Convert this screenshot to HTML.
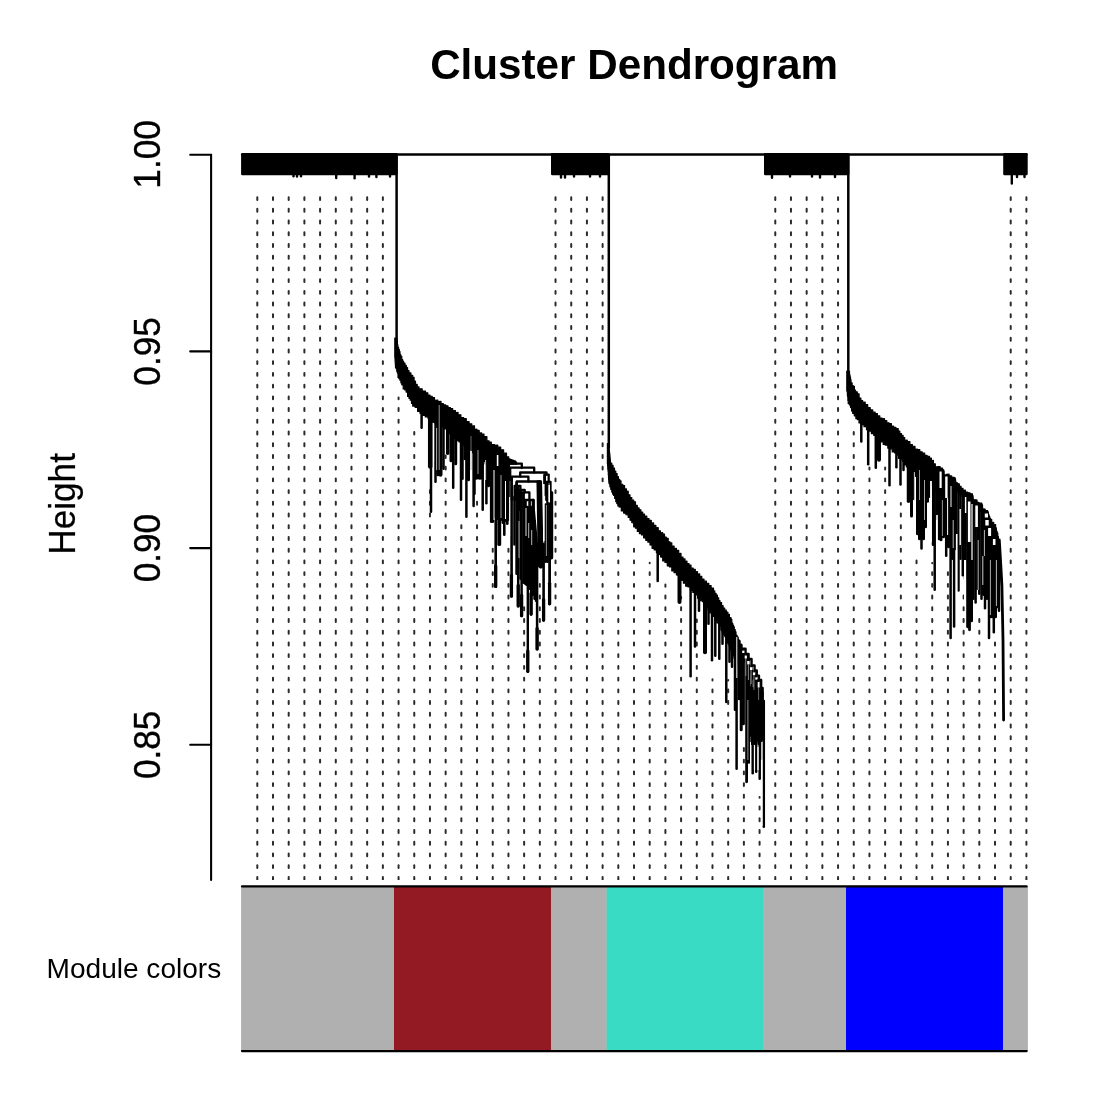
<!DOCTYPE html>
<html lang="en"><head><meta charset="utf-8"><title>Cluster Dendrogram</title>
<style>html,body{margin:0;padding:0;background:#fff;}body{width:1100px;height:1100px;overflow:hidden;font-family:'Liberation Sans',sans-serif;}svg{display:block;}</style>
</head><body>
<svg width="1100" height="1100" viewBox="0 0 1100 1100">
<rect width="1100" height="1100" fill="#fff"/>
<defs><clipPath id="cp"><rect x="0" y="0" width="1100" height="880"/></clipPath></defs>
<g clip-path="url(#cp)" stroke="#2b2b2b" stroke-width="2" stroke-linecap="round" fill="none" stroke-dasharray="2.90 8.82">
<path d="M257.30 879.8V192.00"/>
<path d="M273.00 879.8V192.00"/>
<path d="M288.69 879.8V192.00"/>
<path d="M304.39 879.8V192.00"/>
<path d="M320.08 879.8V192.00"/>
<path d="M335.78 879.8V192.00"/>
<path d="M351.48 879.8V192.00"/>
<path d="M367.17 879.8V192.00"/>
<path d="M382.87 879.8V192.00"/>
<path d="M398.56 879.8V397.40"/>
<path d="M414.26 879.8V432.00"/>
<path d="M429.96 879.8V485.00"/>
<path d="M445.65 879.8V455.50"/>
<path d="M461.35 879.8V518.00"/>
<path d="M477.04 879.8V495.00"/>
<path d="M492.74 879.8V540.00"/>
<path d="M508.44 879.8V547.00"/>
<path d="M524.13 879.8V600.00"/>
<path d="M539.83 879.8V583.00"/>
<path d="M555.52 879.8V192.00"/>
<path d="M571.22 879.8V192.00"/>
<path d="M586.92 879.8V192.00"/>
<path d="M602.61 879.8V192.00"/>
<path d="M618.31 879.8V523.00"/>
<path d="M634.00 879.8V546.00"/>
<path d="M649.70 879.8V562.80"/>
<path d="M665.40 879.8V584.60"/>
<path d="M681.09 879.8V597.00"/>
<path d="M696.79 879.8V619.50"/>
<path d="M712.48 879.8V679.20"/>
<path d="M728.18 879.8V680.00"/>
<path d="M743.88 879.8V748.00"/>
<path d="M759.57 879.8V797.00"/>
<path d="M775.27 879.8V192.00"/>
<path d="M790.96 879.8V192.00"/>
<path d="M806.66 879.8V192.00"/>
<path d="M822.36 879.8V192.00"/>
<path d="M838.05 879.8V192.00"/>
<path d="M853.75 879.8V432.00"/>
<path d="M869.44 879.8V467.40"/>
<path d="M885.14 879.8V467.40"/>
<path d="M900.84 879.8V503.00"/>
<path d="M916.53 879.8V552.00"/>
<path d="M932.23 879.8V563.00"/>
<path d="M947.92 879.8V565.00"/>
<path d="M963.62 879.8V593.00"/>
<path d="M979.32 879.8V612.00"/>
<path d="M995.01 879.8V635.00"/>
<path d="M1010.71 879.8V192.00"/>
<path d="M1026.40 879.8V192.00"/>
</g>
<g stroke="#000" stroke-width="2.5" stroke-linecap="round" stroke-linejoin="round" fill="none">
<path d="M242.3 154.6H1026.4"/>
</g>
<rect x="241.1" y="153.1" width="156.5" height="22.2" rx="1.2" fill="#000"/>
<rect x="551.0" y="153.1" width="58.6" height="22.2" rx="1.2" fill="#000"/>
<rect x="764.0" y="153.1" width="85.4" height="22.2" rx="1.2" fill="#000"/>
<rect x="1003.2" y="153.1" width="24.5" height="22.2" rx="1.2" fill="#000"/>
<g stroke="#000" stroke-width="2.4" stroke-linecap="round" fill="none">
<path d="M293.5 172V176.2"/>
<path d="M297 172V176.5"/>
<path d="M301 172V176.3"/>
<path d="M336.2 172V178"/>
<path d="M354.6 172V178.3"/>
<path d="M369 172V176.5"/>
<path d="M376.4 172V177"/>
<path d="M390 172V176.6"/>
<path d="M561 172V177.5"/>
<path d="M565 172V177.5"/>
<path d="M574 172V176.5"/>
<path d="M590 172V176.6"/>
<path d="M600 172V176.5"/>
<path d="M772 172V177.8"/>
<path d="M790 172V176.5"/>
<path d="M812 172V176.5"/>
<path d="M820 172V177.5"/>
<path d="M835 172V177"/>
<path d="M1011.8 172V183.5"/>
<path d="M1017 172V177"/>
<path d="M1024.5 172V177"/>
</g>
<path d="M396.6 154.6V343.0" stroke="#000" stroke-width="2.5" fill="none"/>
<path d="M396.4 338.0L396.8 337.9L396.8 339.8L397.1 339.9L397.1 342.1L397.4 342.1L397.4 344.8L397.8 344.6L397.8 347.3L398.5 347.1L398.5 349.6L399.3 349.4L399.3 351.5L400.0 351.5L400.0 355.0L400.9 354.8L400.9 356.4L401.8 356.4L401.8 359.7L402.7 359.7L402.7 361.2L403.6 361.4L403.6 363.0L405.0 363.1L405.0 365.6L406.3 365.4L406.3 367.6L407.6 367.5L407.6 370.9L409.0 370.7L409.0 372.8L410.9 372.9L410.9 375.3L412.7 375.3L412.7 377.6L414.1 377.4L414.1 380.9L415.5 381.0L415.5 384.4L417.2 384.3L417.2 386.9L419.0 386.9L419.0 388.7L422.2 388.8L422.2 391.1L425.5 391.0L425.5 392.8L427.8 392.8L427.8 395.1L430.0 395.1L430.0 396.1L432.2 396.3L432.2 397.6L434.5 397.6L434.5 400.4L437.8 400.2L437.8 401.6L441.0 401.4L441.0 403.5L443.3 403.6L443.3 404.7L445.7 404.9L445.7 405.7L448.0 405.8L448.0 407.5L450.4 407.5L450.4 408.6L452.7 408.7L452.7 410.6L455.4 410.6L455.4 412.5L458.1 412.3L458.1 414.8L460.9 414.8L460.9 417.4L463.6 417.6L463.6 418.7L466.3 418.7L466.3 421.7L469.1 421.5L469.1 423.9L471.8 423.8L471.8 426.0L474.5 425.8L474.5 429.4L476.9 429.2L476.9 430.4L479.2 430.4L479.2 433.0L481.6 432.8L481.6 434.2L484.0 434.2L484.0 436.5L486.9 436.7L486.9 440.9L489.1 440.8L489.1 442.1L491.3 442.0L491.3 444.5L494.6 444.7L494.6 445.3L497.8 445.2L497.8 447.2L500.7 447.1L500.7 449.8L503.6 449.8L503.6 453.2L506.5 453.0L506.5 456.9L508.7 456.8L508.7 459.7L508.7 468.2L508.7 469.1L508.7 469.4L508.7 471.6L508.7 471.6L508.7 475.1L508.7 475.1L508.7 478.4L508.7 478.4L508.7 480.8L508.7 480.8L508.7 478.0L505.8 477.9L505.8 476.7L502.9 476.8L502.9 473.6L500.0 473.8L500.0 472.0L497.5 472.2L497.5 469.4L495.0 469.6L495.0 467.3L492.5 467.4L492.5 466.9L490.0 466.7L490.0 465.6L487.6 465.7L487.6 463.9L485.2 463.9L485.2 461.7L482.8 461.4L482.8 461.1L480.4 461.3L480.4 460.2L478.0 460.3L478.0 458.7L476.2 458.5L476.2 456.0L474.4 456.2L474.4 452.9L472.6 452.7L472.6 450.3L470.8 450.5L470.8 450.0L469.0 449.9L469.0 446.9L466.5 447.0L466.5 446.3L464.0 446.0L464.0 444.1L461.4 444.2L461.4 441.6L458.9 441.8L458.9 440.7L456.4 440.6L456.4 438.5L454.0 438.2L454.0 436.1L451.5 436.4L451.5 433.7L449.1 433.6L449.1 432.5L446.7 432.3L446.7 428.9L444.2 428.8L444.2 426.6L441.8 426.8L441.8 425.5L439.5 425.6L439.5 425.8L437.2 425.5L437.2 423.3L434.9 423.0L434.9 422.4L432.6 422.2L432.6 419.8L430.3 419.9L430.3 417.8L428.0 418.1L428.0 416.8L425.3 416.9L425.3 415.1L422.7 415.3L422.7 413.5L420.0 413.3L420.0 411.5L417.6 411.3L417.6 407.5L415.1 407.3L415.1 406.0L412.7 406.1L412.7 403.6L411.5 403.5L411.5 400.0L410.2 400.2L410.2 398.2L409.0 398.4L409.0 396.7L407.6 396.5L407.6 392.1L406.1 392.1L406.1 389.8L404.7 389.8L404.7 388.9L403.2 388.9L403.2 384.5L401.8 384.8L401.8 383.0L400.9 382.8L400.9 380.1L399.9 380.2L399.9 378.4L398.9 378.6L398.9 377.4L398.0 377.4L398.0 373.5L397.4 373.3L397.4 371.3L396.8 371.4L396.8 368.5L396.1 368.6L396.1 367.8L395.5 367.7L395.5 364.2L395.3 364.5L395.3 361.6L395.1 361.8L395.1 359.1L395.0 359.4L395.0 357.2L394.8 357.3L394.8 354.7L394.8 354.9L394.8 353.6L394.8 353.8L394.8 350.9L394.8 351.1L394.8 349.6L394.8 349.7L394.8 347.7L394.8 347.4L394.8 344.0L394.8 343.8L394.8 342.8L394.8 342.7L394.8 340.6L394.8 340.6L394.8 338.3L394.8 338.0Z" fill="#000" stroke="#000" stroke-width="1.2" stroke-linejoin="round"/>
<g stroke="#000" stroke-linecap="round" fill="none">
<path d="M421.6 393.5V427.8" stroke-width="2.5"/>
<path d="M430.2 399.5V466.5" stroke-width="4.5"/>
<path d="M431.0 400.2V511.8" stroke-width="2.5"/>
<path d="M435.5 403.5V481.8" stroke-width="2.5"/>
<path d="M437.8 404.7V474.8" stroke-width="3"/>
<path d="M440.5 406.0V474.8" stroke-width="4"/>
<path d="M443.5 407.7V468.8" stroke-width="2.5"/>
<path d="M447.7 410.1V453.3" stroke-width="3.5"/>
<path d="M451.0 412.0V460.8" stroke-width="3"/>
<path d="M453.2 413.4V487.8" stroke-width="2.5"/>
<path d="M455.7 415.5V463.8" stroke-width="3"/>
<path d="M461.0 419.9V499.8" stroke-width="2.5"/>
<path d="M462.5 421.1V478.8" stroke-width="2.5"/>
<path d="M466.4 424.6V516.8" stroke-width="2.5"/>
<path d="M465.0 423.3V458.8" stroke-width="3"/>
<path d="M468.5 426.5V479.8" stroke-width="3"/>
<path d="M473.6 431.2V506.1" stroke-width="2.5"/>
<path d="M474.5 432.0V493.8" stroke-width="2.5"/>
<path d="M476.0 433.1V476.8" stroke-width="6"/>
<path d="M480.0 436.1V476.8" stroke-width="6"/>
<path d="M482.7 438.0V509.8" stroke-width="2.5"/>
<path d="M486.4 442.6V503.3" stroke-width="2.5"/>
<path d="M488.5 444.7V485.8" stroke-width="3"/>
<path d="M491.2 446.9V521.8" stroke-width="2.6"/>
<path d="M492.8 447.8V521.8" stroke-width="2.6"/>
<path d="M494.3 448.7V516.8" stroke-width="2.4"/>
<path d="M495.7 449.4V586.8" stroke-width="2.6"/>
<path d="M497.4 450.4V518.8" stroke-width="2.4"/>
<path d="M498.6 451.2V544.6" stroke-width="2.6"/>
<path d="M499.9 452.2V544.6" stroke-width="2.6"/>
<path d="M501.5 453.8V519.8" stroke-width="2.6"/>
<path d="M502.9 455.6V522.8" stroke-width="2.6"/>
<path d="M504.3 457.3V534.8" stroke-width="2.6"/>
<path d="M505.8 459.2V520.8" stroke-width="2.6"/>
<path d="M507.3 460.9V523.8" stroke-width="2.6"/>
<path d="M508.6 462.5V519.8" stroke-width="2.4"/>
<path d="M511.6 477.7V596.4" stroke-width="2.6"/>
<path d="M514.4 497.0V544.6" stroke-width="2.4"/>
<path d="M516.6 482.5V573.8" stroke-width="2.6"/>
<path d="M518.2 486.8V606.3" stroke-width="2.5"/>
<path d="M520.6 490.8V578.8" stroke-width="2.6"/>
<path d="M521.6 493.4V616.1" stroke-width="2.5"/>
<path d="M523.6 493.4V582.8" stroke-width="2.6"/>
<path d="M525.4 501.0V583.8" stroke-width="2.8"/>
<path d="M526.6 507.0V584.8" stroke-width="2.6"/>
<path d="M527.8 507.0V671.7" stroke-width="2.4"/>
<path d="M529.6 500.5V588.8" stroke-width="2.6"/>
<path d="M531.1 507.0V614.4" stroke-width="2.5"/>
<path d="M533.0 501.0V594.8" stroke-width="2.6"/>
<path d="M534.6 521.0V598.8" stroke-width="2.6"/>
<path d="M536.0 536.0V600.8" stroke-width="2.4"/>
<path d="M537.1 548.0V649.3" stroke-width="2.5"/>
<path d="M543.6 544.0V620.4" stroke-width="2.6"/>
<path d="M544.8 476.3V493.8" stroke-width="2.4"/>
<path d="M547.5 482.8V561.8" stroke-width="2.6"/>
<path d="M549.6 504.0V604.1" stroke-width="2.8"/>
<path d="M551.5 492.6V557.8" stroke-width="3.4"/>
<path d="M545.6 504.6V561.8" stroke-width="2.6"/>
</g>
<path d="M608.8 154.6V448.6" stroke="#000" stroke-width="2.5" fill="none"/>
<path d="M608.7 443.6L608.9 443.5L608.9 446.0L609.1 446.0L609.1 448.5L609.3 448.4L609.3 450.8L609.5 450.8L609.5 453.5L609.8 453.4L609.8 455.6L610.0 455.5L610.0 457.6L610.2 457.7L610.2 460.3L610.4 460.3L610.4 463.1L611.8 463.2L611.8 465.4L613.1 465.4L613.1 468.2L614.5 468.2L614.5 471.3L615.8 471.2L615.8 473.6L617.1 473.6L617.1 476.7L618.4 476.7L618.4 479.1L619.7 479.3L619.7 480.7L621.0 480.8L621.0 484.2L622.8 484.4L622.8 485.8L624.6 485.7L624.6 489.0L626.4 488.8L626.4 491.4L628.2 491.2L628.2 494.7L630.0 494.9L630.0 497.6L631.8 497.5L631.8 499.9L633.7 500.0L633.7 501.7L635.5 501.8L635.5 505.4L637.3 505.3L637.3 507.9L639.1 507.9L639.1 509.6L640.9 509.8L640.9 512.3L642.7 512.2L642.7 514.0L644.5 514.0L644.5 516.2L646.8 516.0L646.8 518.4L649.0 518.5L649.0 520.3L651.3 520.3L651.3 523.1L653.6 522.9L653.6 525.3L655.9 525.3L655.9 527.8L658.2 527.6L658.2 530.7L660.4 530.8L660.4 532.9L662.7 532.7L662.7 534.2L664.5 534.0L664.5 537.1L666.3 537.0L666.3 538.4L668.2 538.3L668.2 541.7L670.0 541.8L670.0 543.0L671.8 542.8L671.8 546.1L674.1 546.1L674.1 548.5L676.4 548.3L676.4 550.3L678.7 550.4L678.7 553.6L681.0 553.4L681.0 557.0L683.0 557.1L683.0 559.1L685.0 558.9L685.0 561.4L687.0 561.2L687.0 563.6L689.0 563.6L689.0 565.1L691.0 565.2L691.0 568.2L693.2 568.1L693.2 569.4L695.3 569.4L695.3 571.9L697.5 571.7L697.5 574.1L699.7 573.9L699.7 576.4L701.8 576.4L701.8 578.9L704.0 579.0L704.0 581.2L706.4 581.2L706.4 583.4L708.8 583.4L708.8 585.6L711.1 585.5L711.1 587.9L713.5 588.0L713.5 591.1L714.8 590.9L714.8 593.3L716.1 593.4L716.1 595.0L717.4 595.2L717.4 597.8L718.7 597.8L718.7 600.7L720.0 600.6L720.0 602.5L721.6 602.6L721.6 605.7L723.1 605.6L723.1 608.0L724.7 608.1L724.7 610.2L726.3 610.2L726.3 612.3L727.9 612.1L727.9 614.5L729.4 614.3L729.4 617.8L731.0 617.7L731.0 619.5L731.8 619.4L731.8 622.9L732.7 623.1L732.7 625.1L733.5 625.0L733.5 626.9L734.3 626.8L734.3 629.6L735.2 629.5L735.2 632.0L736.0 631.9L736.0 635.1L737.1 635.3L737.1 637.3L738.2 637.2L738.2 640.7L738.2 647.6L738.2 649.6L738.2 649.9L738.2 652.4L738.2 652.5L738.2 654.4L738.2 654.5L738.2 657.8L738.2 657.7L738.2 658.7L738.2 658.6L738.2 660.4L738.2 660.5L738.2 662.6L738.2 662.7L738.2 664.9L738.2 665.1L738.2 669.0L738.2 669.0L738.2 665.3L737.2 665.0L737.2 664.0L736.1 664.0L736.1 659.9L735.1 660.1L735.1 658.0L734.0 658.2L734.0 655.6L733.0 655.6L733.0 653.4L732.0 653.3L732.0 652.3L731.1 652.0L731.1 648.9L730.1 649.0L730.1 646.3L729.2 646.4L729.2 644.2L728.2 644.0L728.2 642.8L727.3 643.0L727.3 640.5L726.3 640.3L726.3 637.5L725.4 637.3L725.4 636.2L724.4 636.1L724.4 634.8L723.2 634.5L723.2 632.1L722.0 632.0L722.0 630.2L720.9 630.0L720.9 626.0L719.7 626.1L719.7 623.9L718.5 623.9L718.5 622.8L716.8 622.9L716.8 620.3L715.0 620.4L715.0 616.2L713.3 616.5L713.3 614.8L711.5 614.9L711.5 612.8L709.8 612.9L709.8 610.2L708.0 609.9L708.0 607.1L706.1 607.2L706.1 605.7L704.3 605.5L704.3 602.0L702.5 601.7L702.5 600.8L700.1 600.6L700.1 598.0L697.7 598.3L697.7 594.8L695.2 594.9L695.2 592.2L692.8 592.4L692.8 590.4L690.4 590.4L690.4 586.8L688.0 587.0L688.0 586.2L685.7 586.2L685.7 583.0L683.4 583.2L683.4 580.4L681.0 580.2L681.0 577.1L678.7 576.9L678.7 575.3L676.4 575.0L676.4 572.4L674.1 572.7L674.1 570.7L671.8 570.9L671.8 566.9L669.5 567.0L669.5 565.9L667.3 565.9L667.3 562.6L665.0 562.4L665.0 560.6L662.7 560.9L662.7 557.3L660.6 557.0L660.6 554.6L658.5 554.4L658.5 552.7L656.4 552.7L656.4 549.9L654.2 549.9L654.2 548.4L652.1 548.3L652.1 545.1L650.0 545.0L650.0 541.8L647.9 542.1L647.9 540.3L645.8 540.3L645.8 537.9L643.6 537.8L643.6 534.8L641.5 535.0L641.5 533.7L639.4 533.7L639.4 531.5L637.3 531.4L637.3 528.2L635.5 528.2L635.5 526.7L633.7 526.8L633.7 522.8L631.8 522.6L631.8 520.3L630.0 520.1L630.0 517.2L628.2 517.5L628.2 514.8L625.9 514.6L625.9 513.2L623.6 513.1L623.6 511.0L621.3 511.0L621.3 507.2L619.0 507.0L619.0 506.0L617.9 506.0L617.9 503.7L616.8 503.6L616.8 501.7L615.8 501.7L615.8 498.2L614.7 498.4L614.7 495.2L613.6 495.5L613.6 494.1L612.7 494.2L612.7 492.2L611.8 492.1L611.8 489.4L610.8 489.4L610.8 487.0L609.9 486.8L609.9 483.7L609.0 483.6L609.0 481.8L608.8 482.0L608.8 479.6L608.6 479.4L608.6 477.8L608.5 477.6L608.5 474.7L608.3 475.0L608.3 471.9L608.1 471.8L608.1 470.2L607.9 469.9L607.9 468.7L607.8 468.8L607.8 466.3L607.6 466.1L607.6 463.8L607.4 463.7L607.4 460.9L607.4 460.8L607.4 458.1L607.4 458.2L607.4 456.5L607.4 456.7L607.4 454.0L607.4 454.2L607.4 452.2L607.4 452.5L607.4 450.1L607.4 450.3L607.4 447.8L607.4 447.8L607.4 445.2L607.4 445.5L607.4 443.5L607.4 443.6Z" fill="#000" stroke="#000" stroke-width="1.2" stroke-linejoin="round"/>
<g stroke="#000" stroke-linecap="round" fill="none">
<path d="M657.7 532.6V581.0" stroke-width="2.5"/>
<path d="M679.5 557.6V602.1" stroke-width="4"/>
<path d="M690.6 570.2V676.3" stroke-width="2.5"/>
<path d="M695.0 574.9V646.4" stroke-width="2.5"/>
<path d="M699.0 579.2V610.8" stroke-width="2.5"/>
<path d="M705.0 585.5V652.3" stroke-width="4"/>
<path d="M708.5 589.0V623.8" stroke-width="2.5"/>
<path d="M712.0 592.5V660.3" stroke-width="2.5"/>
<path d="M715.3 597.2V655.8" stroke-width="2.5"/>
<path d="M719.3 604.3V658.8" stroke-width="2.5"/>
<path d="M722.5 609.5V643.8" stroke-width="2.5"/>
<path d="M726.3 615.5V702.1" stroke-width="2.5"/>
<path d="M729.5 620.6V661.8" stroke-width="2.5"/>
<path d="M732.0 625.9V666.8" stroke-width="2.5"/>
<path d="M735.0 634.6V709.8" stroke-width="2.5"/>
<path d="M736.6 639.0V768.8" stroke-width="2.5"/>
<path d="M739.2 641.0V698.8" stroke-width="3"/>
<path d="M741.2 645.0V729.8" stroke-width="3"/>
<path d="M743.4 649.7V723.8" stroke-width="3"/>
<path d="M746.6 654.8V781.8" stroke-width="2.8"/>
<path d="M749.0 660.0V762.4" stroke-width="2.5"/>
<path d="M751.6 666.5V743.8" stroke-width="2.4"/>
<path d="M752.7 691.0V773.3" stroke-width="2.5"/>
<path d="M754.6 671.5V743.8" stroke-width="2.4"/>
<path d="M756.2 676.6V771.8" stroke-width="2.5"/>
<path d="M758.6 681.0V743.8" stroke-width="2.4"/>
<path d="M759.7 691.0V778.8" stroke-width="2.5"/>
<path d="M761.3 689.0V758.8" stroke-width="2.4"/>
<path d="M763.8 701.0V826.8" stroke-width="2.5"/>
</g>
<path d="M848.3 154.6V376.0" stroke="#000" stroke-width="2.5" fill="none"/>
<path d="M848.2 371.0L849.0 371.2L849.0 371.3L849.5 371.3L849.5 374.7L850.0 374.9L850.0 376.9L850.5 376.8L850.5 379.6L851.0 379.6L851.0 382.6L852.1 382.8L852.1 385.5L853.2 385.6L853.2 386.6L854.4 386.4L854.4 389.8L855.5 390.0L855.5 391.8L857.3 391.8L857.3 393.8L859.1 393.8L859.1 397.8L860.9 398.0L860.9 400.5L862.7 400.7L862.7 402.3L865.2 402.2L865.2 404.5L867.7 404.5L867.7 407.5L870.2 407.7L870.2 409.8L872.7 409.9L872.7 412.2L875.1 412.2L875.1 413.7L877.4 413.5L877.4 415.9L879.8 415.8L879.8 417.9L882.1 418.0L882.1 418.9L884.5 418.7L884.5 420.7L886.8 420.7L886.8 422.9L889.1 422.8L889.1 423.7L891.4 423.7L891.4 426.1L893.6 426.1L893.6 427.3L895.9 427.3L895.9 428.6L898.2 428.6L898.2 430.9L899.8 431.1L899.8 433.5L901.5 433.6L901.5 435.5L903.1 435.4L903.1 437.4L904.7 437.6L904.7 440.3L907.3 440.2L907.3 441.5L909.9 441.5L909.9 444.6L912.4 444.6L912.4 446.2L915.0 446.3L915.0 449.3L917.4 449.2L917.4 449.6L919.8 449.6L919.8 451.8L922.2 451.8L922.2 453.0L924.7 453.2L924.7 455.4L927.1 455.4L927.1 456.2L929.5 456.4L929.5 457.9L931.4 458.1L931.4 460.5L933.4 460.4L933.4 463.9L935.3 463.8L935.3 466.8L937.7 466.8L937.7 466.7L940.1 466.6L940.1 468.0L942.5 468.0L942.5 469.6L943.2 469.5L943.2 471.5L944.0 471.3L944.0 474.9L946.5 474.7L946.5 474.4L949.1 474.2L949.1 475.7L951.7 475.9L951.7 477.2L954.2 477.3L954.2 478.2L954.9 478.4L954.9 479.6L955.6 479.5L955.6 482.8L957.5 482.9L957.5 483.7L959.3 483.8L959.3 486.4L961.1 486.4L961.1 488.6L963.0 488.4L963.0 490.3L965.4 490.2L965.4 491.9L967.7 492.1L967.7 492.6L970.0 492.8L970.0 493.8L972.4 493.8L972.4 495.8L972.7 495.9L972.7 497.8L973.0 497.6L973.0 500.4L975.9 500.3L975.9 502.4L978.9 502.3L978.9 503.1L981.8 503.2L981.8 504.0L982.1 504.0L982.1 507.7L982.5 507.8L982.5 509.2L985.0 509.0L985.0 510.3L987.6 510.5L987.6 511.7L988.3 511.8L988.3 515.0L989.1 514.9L989.1 516.5L989.8 516.7L989.8 519.5L991.7 519.4L991.7 522.5L993.7 522.4L993.7 524.8L995.6 524.6L995.6 528.4L996.3 528.5L996.3 531.1L997.1 531.3L997.1 533.1L997.8 533.0L997.8 536.7L998.3 536.9L998.3 540.0L998.8 540.0L998.8 541.7L999.3 541.7L999.3 544.7L999.5 544.9L999.5 546.6L999.6 546.7L999.6 549.8L999.8 549.9L999.8 552.2L1000.0 552.2L1000.0 553.9L1000.2 553.8L1000.2 556.3L1000.4 556.4L1000.4 558.3L1000.5 558.2L1000.5 561.6L1000.7 561.5L1000.7 563.0L1000.8 562.8L1000.8 566.1L1001.0 566.0L1001.0 569.1L1001.1 569.3L1001.1 571.6L1001.2 571.5L1001.2 572.8L1001.4 572.6L1001.4 575.8L1001.5 575.9L1001.5 578.1L1001.6 578.0L1001.6 580.5L1001.8 580.6L1001.8 583.3L1001.9 583.4L1001.9 586.0L1001.9 594.5L1001.9 590.8L1001.8 590.7L1001.8 588.2L1001.6 588.0L1001.6 586.1L1001.5 585.9L1001.5 584.8L1001.4 584.8L1001.4 582.0L1001.2 582.1L1001.2 579.5L1001.1 579.2L1001.1 577.3L1001.0 577.1L1001.0 576.1L1000.8 576.0L1000.8 573.2L1000.7 573.5L1000.7 570.6L1000.5 570.5L1000.5 568.0L1000.4 567.8L1000.4 565.9L1000.3 565.8L1000.3 563.8L1000.1 564.0L1000.1 561.7L1000.0 561.9L1000.0 559.8L999.7 559.7L999.7 555.6L999.4 555.8L999.4 553.5L999.1 553.8L999.1 551.3L998.9 551.3L998.9 550.1L998.6 550.3L998.6 546.4L998.3 546.4L998.3 544.5L998.0 544.3L998.0 541.6L997.3 541.4L997.3 539.2L996.7 539.0L996.7 537.2L996.0 537.4L996.0 532.1L994.0 531.9L994.0 530.8L992.0 530.5L992.0 527.6L990.0 527.6L990.0 523.9L989.0 524.1L989.0 521.5L988.0 521.3L988.0 517.8L986.0 517.6L986.0 517.5L984.0 517.2L984.0 512.3L982.0 512.3L982.0 511.4L980.0 511.4L980.0 509.1L978.0 509.0L978.0 508.0L976.0 507.9L976.0 507.8L974.0 507.8L974.0 504.6L973.0 504.9L973.0 501.1L972.0 501.3L972.0 500.5L970.0 500.6L970.0 500.8L968.0 500.8L968.0 499.0L966.0 498.8L966.0 498.7L964.0 498.7L964.0 496.4L962.0 496.7L962.0 494.7L960.0 494.8L960.0 492.2L958.0 492.2L958.0 489.2L956.0 489.3L956.0 487.2L955.0 487.2L955.0 483.7L954.0 483.7L954.0 486.0L953.5 485.8L953.5 489.4L953.0 489.2L953.0 491.9L952.5 492.2L952.5 493.3L952.0 493.2L952.0 495.6L951.5 495.8L951.5 498.2L951.0 498.2L951.0 499.9L950.5 500.0L950.5 503.9L950.0 503.7L950.0 500.1L947.5 500.2L947.5 498.0L945.0 497.8L945.0 496.7L942.5 496.5L942.5 494.0L940.0 493.8L940.0 491.1L937.6 490.8L937.6 490.4L935.3 490.4L935.3 486.7L932.9 486.5L932.9 485.7L930.6 485.9L930.6 482.9L928.2 482.7L928.2 481.9L925.7 482.1L925.7 479.4L923.1 479.4L923.1 478.2L920.6 478.4L920.6 477.1L918.0 477.2L918.0 476.1L915.5 476.3L915.5 473.4L913.2 473.3L913.2 470.0L911.0 470.3L911.0 469.4L908.7 469.4L908.7 467.0L906.4 467.0L906.4 464.9L904.4 464.9L904.4 460.9L902.4 461.2L902.4 459.1L900.5 458.9L900.5 458.2L898.5 458.3L898.5 455.0L896.5 454.8L896.5 452.7L894.5 452.8L894.5 451.8L892.2 451.9L892.2 448.8L890.0 448.9L890.0 448.0L887.8 448.1L887.8 445.0L885.5 445.2L885.5 444.6L883.2 444.5L883.2 441.8L881.0 441.9L881.0 440.4L878.6 440.6L878.6 437.9L876.2 437.7L876.2 435.4L873.8 435.5L873.8 433.7L871.4 433.6L871.4 430.9L869.0 431.2L869.0 429.8L866.5 429.7L866.5 426.5L864.0 426.7L864.0 424.5L861.5 424.7L861.5 422.8L859.0 422.9L859.0 419.7L857.4 419.6L857.4 419.0L855.9 418.7L855.9 415.6L854.3 415.8L854.3 413.6L852.7 413.3L852.7 411.3L851.6 411.0L851.6 407.8L850.5 407.5L850.5 404.8L849.3 405.0L849.3 403.3L848.2 403.5L848.2 401.0L847.9 400.8L847.9 396.8L847.6 396.8L847.6 395.7L847.4 395.4L847.4 392.2L847.1 392.0L847.1 391.0L846.8 391.0L846.8 387.2L846.8 387.3L846.8 386.1L846.8 386.0L846.8 382.2L846.8 382.4L846.8 379.7L846.8 379.9L846.8 378.0L846.8 377.9L846.8 375.4L846.8 375.3L846.8 372.8L846.8 372.6L846.8 371.1L846.8 371.0Z" fill="#000" stroke="#000" stroke-width="1.2" stroke-linejoin="round"/>
<g stroke="#000" stroke-linecap="round" fill="none">
<path d="M861.3 403.6V441.5" stroke-width="2.5"/>
<path d="M868.2 410.7V464.3" stroke-width="2.5"/>
<path d="M875.8 417.2V467.8" stroke-width="2.5"/>
<path d="M879.0 419.7V459.8" stroke-width="4"/>
<path d="M889.5 427.6V485.2" stroke-width="2.5"/>
<path d="M896.4 432.7V467.2" stroke-width="2.5"/>
<path d="M900.5 437.2V484.6" stroke-width="2.5"/>
<path d="M903.5 441.3V470.1" stroke-width="2.5"/>
<path d="M908.5 446.2V501.3" stroke-width="3.5"/>
<path d="M911.5 448.7V516.1" stroke-width="3"/>
<path d="M913.5 450.4V498.8" stroke-width="2.5"/>
<path d="M917.5 453.3V533.8" stroke-width="3"/>
<path d="M919.5 454.6V538.8" stroke-width="3"/>
<path d="M921.5 456.0V548.6" stroke-width="2.5"/>
<path d="M923.5 457.3V538.8" stroke-width="3"/>
<path d="M925.5 458.6V526.8" stroke-width="3"/>
<path d="M927.5 459.9V501.3" stroke-width="3"/>
<path d="M930.0 461.9V496.8" stroke-width="2.5"/>
<path d="M933.0 466.0V544.8" stroke-width="2.5"/>
<path d="M934.7 468.4V589.8" stroke-width="2.5"/>
<path d="M937.0 469.9V518.8" stroke-width="2.5"/>
<path d="M939.0 470.6V538.8" stroke-width="3"/>
<path d="M941.0 471.4V539.8" stroke-width="3"/>
<path d="M943.5 475.5V536.8" stroke-width="3"/>
<path d="M946.2 477.9V555.8" stroke-width="2.5"/>
<path d="M948.5 478.7V546.8" stroke-width="3"/>
<path d="M950.6 479.3V638.1" stroke-width="2.5"/>
<path d="M952.3 479.9V558.8" stroke-width="2.5"/>
<path d="M954.1 480.5V626.4" stroke-width="2.5"/>
<path d="M956.0 485.7V548.8" stroke-width="3"/>
<path d="M958.5 488.6V590.4" stroke-width="2.5"/>
<path d="M960.5 491.0V558.8" stroke-width="2.5"/>
<path d="M962.8 493.8V575.3" stroke-width="2.5"/>
<path d="M965.0 494.9V578.8" stroke-width="2.5"/>
<path d="M967.6 496.1V626.8" stroke-width="2.8"/>
<path d="M969.5 497.0V629.8" stroke-width="2.8"/>
<path d="M971.5 497.9V620.8" stroke-width="3"/>
<path d="M973.5 503.6V598.8" stroke-width="2.5"/>
<path d="M975.6 504.7V602.4" stroke-width="2.5"/>
<path d="M977.5 505.6V588.8" stroke-width="2.5"/>
<path d="M979.3 506.5V593.8" stroke-width="2.5"/>
<path d="M981.5 507.6V598.8" stroke-width="2.5"/>
<path d="M983.3 513.1V594.8" stroke-width="2.5"/>
<path d="M985.0 513.9V608.3" stroke-width="2.5"/>
<path d="M987.0 514.7V598.8" stroke-width="2.5"/>
<path d="M989.0 519.6V638.1" stroke-width="2.5"/>
<path d="M991.0 524.1V616.8" stroke-width="3"/>
<path d="M992.5 526.4V616.8" stroke-width="3"/>
<path d="M993.8 528.3V632.3" stroke-width="2.5"/>
<path d="M995.5 530.9V616.8" stroke-width="3"/>
<path d="M997.3 537.7V606.8" stroke-width="3"/>
<path d="M999.0 546.1V610.8" stroke-width="2.5"/>
</g>
<g stroke="#000" stroke-width="2.3" stroke-linejoin="round" stroke-linecap="round" fill="none">
<path d="M495.3 470V451.6H500.0V468"/>
<path d="M497.9 468V454H497.9V468"/>
<path d="M508.9 480V463.6H521.8V468"/>
<path d="M510.2 480V467.7H534.2V472.6"/>
<path d="M520.2 476.6V472.5H546.5V474.5"/>
<path d="M544.4 495V474.6H548.7V481.8"/>
<path d="M546.3 500V481.8H550.5V500"/>
<path d="M511.7 500V476.7H528.4V481.5"/>
<path d="M516.7 485.6V481.5H540.0V520"/>
<path d="M514.6 500V485.8H520.4V489.8"/>
<path d="M516.1 500V489.8H524.7V492.4"/>
<path d="M519.7 510V492.4H529.4V500"/>
<path d="M524.0 520V500.0H533.5V520"/>
<path d="M507 458.5L515.3 461.6L516.5 463.6L508 463.6Z" fill="#000"/>
<path d="M537.6 481.5H540.9L542.6 566Q540.8 569 538.9 566Z" fill="#000"/>
<path d="M533.3 500V506L537 547" stroke-width="2.6"/>
<path d="M527.8 650.9V671.3" stroke-width="3.3"/>
<path d="M537.1 628.5V648.9" stroke-width="3.3"/>
<path d="M518.2 585.5V605.9" stroke-width="3.3"/>
<path d="M521.6 595.3V615.6999999999999" stroke-width="3.3"/>
<path d="M531.1 593.6V614.0" stroke-width="3.3"/>
<path d="M543.6 599.6V620.0" stroke-width="3.3"/>
<path d="M549.6 583.3V603.6999999999999" stroke-width="3.3"/>
<path d="M511.4 575.6V596.0" stroke-width="3.3"/>
<path d="M495.7 566V586.4" stroke-width="3.3"/>
<path d="M738.2 640L740.6 648.7H745.6V653.8H748.6V659H751.6V665.5H754.6V670.5H756.8V675.6H759V680H761.2V688H762.7V700L763.7 715.6" />
<path d="M743.6 653.8V661.8"/>
<path d="M746.6 659V667"/>
<path d="M749.4 665.5V673.5"/>
<path d="M752.4 670.5V678.5"/>
<path d="M754.8 675.6V683.6"/>
<path d="M757 680V688"/>
<path d="M759.2 688V696"/>
<path d="M939.5 500V470.5H943.3V474"/>
<path d="M948.5 500V478.5H954.8V482"/>
<path d="M951 520V482.5H955.6V486"/>
<path d="M952.5 540V486H958V490"/>
<path d="M964.5 520V496H972.4V500"/>
<path d="M965.5 560V500.5H976.5V505"/>
<path d="M973.5 540V505.5H982V510"/>
<path d="M979 560V510H984.5V514"/>
<path d="M982 560V513.5H987.6V519"/>
<path d="M984.5 560V519H990V528"/>
<path d="M986 560V528H995.6V560"/>
<path d="M991.5 570V537H997.8V570"/>
<path d="M994.5 580V545H999.3V580"/>
</g>
<path d="M746 684L763.6 692L764.5 740L758 742L752 738L746.5 733Z" fill="#000"/>
<path d="M999.3 540L1000.7 563.6L1001.9 585.5L1003 640L1003.6 720" stroke="#000" stroke-width="2.8" stroke-linecap="round" fill="none"/>
<g fill="none" stroke-linecap="butt">
<path d="M505.5 481V519" stroke="#fff" stroke-width="1.0"/>
<path d="M509.6 497V536" stroke="#fff" stroke-width="1.0"/>
<path d="M519 521V558" stroke="#bbb" stroke-width="0.9"/>
<path d="M526 508V536" stroke="#ddd" stroke-width="1.0"/>
<path d="M528.7 523V538" stroke="#ccc" stroke-width="0.9"/>
<path d="M531.7 530V545" stroke="#ccc" stroke-width="0.9"/>
<path d="M433.6 425V462" stroke="#fff" stroke-width="0.9"/>
<path d="M436.6 428V470" stroke="#ddd" stroke-width="0.8"/>
<path d="M439.2 405V470" stroke="#bbb" stroke-width="0.8"/>
<path d="M478 450V474" stroke="#ccc" stroke-width="0.8"/>
<path d="M471 436V470" stroke="#999" stroke-width="0.7"/>
<path d="M485.6 460V480" stroke="#ddd" stroke-width="0.9"/>
<path d="M494 470V520" stroke="#fff" stroke-width="1.0"/>
<path d="M497.6 455V466" stroke="#fff" stroke-width="1.6"/>
<path d="M501 475V518" stroke="#ccc" stroke-width="0.8"/>
<path d="M543.8 484V541" stroke="#fff" stroke-width="1.6"/>
<path d="M549.2 485V502" stroke="#fff" stroke-width="1.6"/>
<path d="M546.4 505V556" stroke="#bbb" stroke-width="0.8"/>
<path d="M736.8 637V678" stroke="#fff" stroke-width="1.0"/>
<path d="M743.3 650.6V653.0" stroke="#fff" stroke-width="2.2"/>
<path d="M745.8 655.6V658.6" stroke="#fff" stroke-width="2.2"/>
<path d="M748.4 661.0V664.4" stroke="#fff" stroke-width="2.4"/>
<path d="M751.2 667.2V670.0" stroke="#fff" stroke-width="2.4"/>
<path d="M754.0 672.4V675.0" stroke="#fff" stroke-width="2.2"/>
<path d="M756.3 677.4V679.6" stroke="#fff" stroke-width="2.0"/>
<path d="M758.6 682V687.6" stroke="#fff" stroke-width="1.8"/>
<path d="M745.8 658.6V676" stroke="#aaa" stroke-width="0.8"/>
<path d="M748.4 664.4V680" stroke="#aaa" stroke-width="0.8"/>
<path d="M751.2 670V684" stroke="#999" stroke-width="0.8"/>
<path d="M754.0 675V690" stroke="#999" stroke-width="0.7"/>
<path d="M758.6 687.6V700" stroke="#999" stroke-width="0.7"/>
<path d="M750.5 742V770" stroke="#fff" stroke-width="1.0"/>
<path d="M754.5 745V770" stroke="#fff" stroke-width="1.2"/>
<path d="M758 747V770" stroke="#fff" stroke-width="1.2"/>
<path d="M761.9 742V826" stroke="#fff" stroke-width="1.3"/>
<path d="M747.9 700V760" stroke="#bbb" stroke-width="0.8"/>
<path d="M914.4 472V501" stroke="#ddd" stroke-width="0.9"/>
<path d="M931 481V542" stroke="#fff" stroke-width="1.8"/>
<path d="M937 515V590" stroke="#fff" stroke-width="1.6"/>
<path d="M940.6 471.5V488" stroke="#fff" stroke-width="2.2"/>
<path d="M946.4 476.5V498" stroke="#fff" stroke-width="2.4"/>
<path d="M947.6 498V535" stroke="#fff" stroke-width="1.0"/>
<path d="M951 486V507" stroke="#ccc" stroke-width="1.2"/>
<path d="M956.7 534V600" stroke="#fff" stroke-width="1.6"/>
<path d="M960.2 509V545" stroke="#fff" stroke-width="1.4"/>
<path d="M965.6 497V513" stroke="#fff" stroke-width="1.4"/>
<path d="M969.2 501.5V542" stroke="#fff" stroke-width="2.6"/>
<path d="M972 504V560" stroke="#fff" stroke-width="1.2"/>
<path d="M976.6 505.5V527" stroke="#fff" stroke-width="2.6"/>
<path d="M965 560V600" stroke="#fff" stroke-width="2.0"/>
<path d="M982.8 556V585" stroke="#ccc" stroke-width="1.0"/>
<path d="M986.4 513.5V517.5" stroke="#fff" stroke-width="3.2"/>
<path d="M987 520V525.5" stroke="#fff" stroke-width="3.4"/>
<path d="M989.6 528V536" stroke="#fff" stroke-width="3.0"/>
<path d="M994.2 539V545" stroke="#fff" stroke-width="2.6"/>
<path d="M984.4 530V556" stroke="#ccc" stroke-width="0.9"/>
<path d="M978.2 540V590" stroke="#ccc" stroke-width="0.9"/>
<path d="M990.4 560V615" stroke="#bbb" stroke-width="0.9"/>
<path d="M996.4 560V606" stroke="#ccc" stroke-width="0.9"/>
<path d="M919.5 470V500" stroke="#bbb" stroke-width="0.8"/>
<path d="M924.5 480V520" stroke="#ccc" stroke-width="0.8"/>
<path d="M942.4 500V536" stroke="#bbb" stroke-width="0.8"/>
<path d="M953.2 520V548" stroke="#ccc" stroke-width="0.9"/>
</g>
<g stroke="#000" stroke-width="2.08" stroke-linecap="round" fill="none">
<path d="M211.1 154.7V880"/>
<path d="M190.2 154.7H211.1"/>
<path d="M190.2 351.4H211.1"/>
<path d="M190.2 548.1H211.1"/>
<path d="M190.2 744.8H211.1"/>
</g>
<g font-family="'Liberation Sans', sans-serif" fill="#000">
<text x="634.1" y="78.9" font-size="42.2" font-weight="bold" text-anchor="middle">Cluster Dendrogram</text>
<text transform="translate(159.9 154.4) rotate(-90) scale(1 1.06)" stroke="#000" stroke-width="0.35" font-size="35.2" text-anchor="middle">1.00</text>
<text transform="translate(159.9 351.4) rotate(-90) scale(1 1.06)" stroke="#000" stroke-width="0.35" font-size="35.2" text-anchor="middle">0.95</text>
<text transform="translate(159.9 548.1) rotate(-90) scale(1 1.06)" stroke="#000" stroke-width="0.35" font-size="35.2" text-anchor="middle">0.90</text>
<text transform="translate(159.9 744.8) rotate(-90) scale(1 1.06)" stroke="#000" stroke-width="0.35" font-size="35.2" text-anchor="middle">0.85</text>
<text transform="translate(74.7 503.9) rotate(-90) scale(1 1.06)" stroke="#000" stroke-width="0.2" font-size="35.2" text-anchor="middle">Height</text>
<text x="46.6" y="978.3" font-size="28.05">Module colors</text>
</g>
<rect x="241.1" y="886.4" width="153.2" height="165.2" fill="#b0b0b0"/>
<rect x="394" y="886.4" width="157.4" height="165.2" fill="#931a22"/>
<rect x="551.1" y="886.4" width="55.8" height="165.2" fill="#b0b0b0"/>
<rect x="606.6" y="886.4" width="157.3" height="165.2" fill="#3adbc4"/>
<rect x="763.6" y="886.4" width="82.7" height="165.2" fill="#b0b0b0"/>
<rect x="846" y="886.4" width="157.3" height="165.2" fill="#0000ff"/>
<rect x="1003" y="886.4" width="24.9" height="165.2" fill="#b0b0b0"/>
<g stroke="#000" stroke-width="2.3" stroke-linecap="round" fill="none">
<path d="M242 886.45H1026.6"/><path d="M242 1051.05H1026.6"/>
</g>
</svg>
</body></html>
